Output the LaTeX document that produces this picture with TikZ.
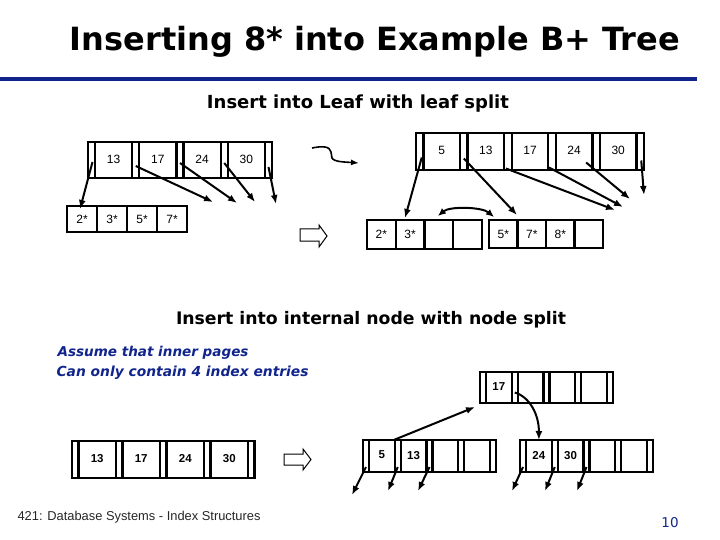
\documentclass[tikz,border=0pt]{standalone}
\usepackage{fontspec}
\setmainfont{Liberation Sans}
\newfontfamily\comicfont{DejaVu Sans}
\usetikzlibrary{arrows.meta,calc}
\definecolor{navy}{RGB}{16,36,140}
\tikzset{
  slotbase/.style={draw, line width=2.3pt, rectangle, inner sep=0pt, outer sep=0pt, anchor=north west},
  ptrslot/.style={slotbase},
  keyslot/.style={slotbase, font=\fontsize{12}{12}\selectfont},
  boldkey/.style={font=\fontsize{11.5}{12}\selectfont\bfseries},
  leafslot/.style={slotbase, font=\fontsize{12}{12}\selectfont},
  ptrarrow/.style={line width=2pt, -{Latex[length=9pt,width=7pt]}},
  dblarrow/.style={line width=2pt, {Latex[length=8pt,width=7pt]}-{Latex[length=8pt,width=7pt]}},
  blockarrow/.style={draw, line width=1pt, fill=white},
  comictext/.style={font=\comicfont\bfseries},
}
% #1 name, #2 x, #3 top y, #4 pointer width, #5 key width, #6 height, #7 keys, #8 number of keys, #9 extra key style
\newcommand{\innernode}[9]{%
  \foreach \kk [count=\ii from 0] in {#7} {%
    \pgfmathsetmacro{\xx}{#2+\ii*(#4+#5)}%
    \node[ptrslot, minimum width=#4 pt, minimum height=#6 pt] (#1-p\ii) at (\xx,#3) {};
    \node[keyslot, #9, minimum width=#5 pt, minimum height=#6 pt] (#1-k\ii) at (\xx+#4,#3) {\raisebox{2pt}{\kk}};
  }
  \pgfmathsetmacro{\xx}{#2+#8*(#4+#5)}%
  \node[ptrslot, minimum width=#4 pt, minimum height=#6 pt] (#1-p#8) at (\xx,#3) {};
}
% #1 name, #2 x, #3 top y, #4 slot width, #5 height, #6 keys
\newcommand{\leafnode}[6]{%
  \foreach \kk [count=\ii from 0] in {#6} {%
    \pgfmathsetmacro{\xx}{#2+\ii*#4}%
    \node[leafslot, minimum width=#4 pt, minimum height=#5 pt] (#1-k\ii) at (\xx,#3) {\kk};
  }
}
\begin{document}
\begin{tikzpicture}[x=1pt,y=-1pt]
\useasboundingbox (0,0) rectangle (720,540);

% title and rule
\node[comictext, anchor=base] (title) at (375,51) {\resizebox{610pt}{!}{Inserting 8* into Example B+ Tree}};
\draw[navy, line width=4pt] (0,79) -- (697,79);

\node[comictext, anchor=base] (sub1) at (358,109) {\resizebox{302pt}{!}{Insert into Leaf with leaf split}};

% ---- leaf split, left tree
\innernode{tl}{88}{142}{7}{37.25}{36}{13,17,24,30}{4}{}
\leafnode{ll}{67}{206}{30}{26}{2*,3*,5*,7*}
\coordinate (a1) at (80,209);
\coordinate (a2) at (213,202);
\coordinate (a3) at (237,203);
\coordinate (a4) at (255,202);
\coordinate (a5) at (276,204);
\draw[ptrarrow] ($(tl-p0.center)+(1,2)$) -- (a1);
\draw[ptrarrow] ($(tl-p1.center)+(0,6)$) -- (a2);
\draw[ptrarrow] ($(tl-p2.center)+(0,3)$) -- (a3);
\draw[ptrarrow] ($(tl-p3.center)+(0,3)$) -- (a4);
\draw[ptrarrow] ($(tl-p4.center)+(0,7)$) -- (a5);

% wavy arrow
\coordinate (w0) at (312,148);
\coordinate (w1) at (359,163);
\draw[line width=1.6pt, -{Latex[length=8pt,width=6pt]}] (w0) .. controls (322,146) and (330,146) .. (331,152) -- (332,158) .. controls (334,162) and (345,162) .. (w1);

% block arrow 1
\draw[blockarrow] (300,229) -- (319,229) -- (319,225) -- (327,236) -- (319,247) -- (319,241) -- (300,241) -- cycle;

% ---- leaf split, right tree
\innernode{tr}{416}{133}{7.5}{36.6}{37}{5,13,17,24,30}{5}{}
\leafnode{lra}{367}{220}{28.75}{29}{2*,3*,{},{}}
\leafnode{lrb}{489}{220}{28.5}{28}{5*,7*,8*,{}}
\coordinate (b0) at (405,218);
\coordinate (b1) at (517,215);
\coordinate (b2) at (615,210);
\coordinate (b3) at (623,207);
\coordinate (b4) at (630,199);
\coordinate (b5) at (644,195);
\draw[ptrarrow] ($(tr-p0.center)+(2,6)$) -- (b0);
\draw[ptrarrow] ($(tr-p1.center)+(0,7)$) -- (b1);
\draw[ptrarrow] ($(tr-p2.center)+(-2,17)$) -- (b2);
\draw[ptrarrow] ($(tr-p3.center)+(-3,16)$) -- (b3);
\draw[ptrarrow] ($(tr-p4.center)+(-10,11)$) -- (b4);
\draw[ptrarrow] ($(tr-p5.center)+(1,9)$) -- (b5);
\coordinate (s1) at ($(lra-k2.north)+(-1,-4)$);
\coordinate (s2) at ($(lrb-k0.north west)+(5,-3)$);
\draw[dblarrow] (s1) .. controls ($(s1)+(12,-10)$) and ($(s2)+(-12,-10)$) .. (s2);

% ---- internal node split
\node[comictext, anchor=base] (sub2) at (371,324) {\resizebox{390pt}{!}{Insert into internal node with node split}};
\node[comictext, anchor=base west, navy, font=\comicfont\bfseries\itshape] (note1) at (54,356) {\resizebox{191pt}{!}{Assume that inner pages}};
\node[comictext, anchor=base west, navy, font=\comicfont\bfseries\itshape] (note2) at (53,376) {\resizebox{252pt}{!}{Can only contain 4 index entries}};

\innernode{bl}{72}{441}{6.5}{37.5}{37}{13,17,24,30}{4}{boldkey}

% block arrow 2
\draw[blockarrow] (284,454) -- (303,454) -- (303,449) -- (311,459.5) -- (303,470) -- (303,465) -- (284,465) -- cycle;

\innernode{br}{480}{372}{6}{25.75}{31}{17,{},{},{}}{4}{boldkey}
\innernode{bm}{363}{440}{6}{25.75}{32}{5,13,{},{}}{4}{boldkey}
\innernode{bn}{520}{440}{6}{25.75}{32}{24,30,{},{}}{4}{boldkey}

\coordinate (c0) at (352,495);
\coordinate (c1) at (388,491);
\coordinate (c2) at (418,491);
\coordinate (c3) at (512,491);
\coordinate (c4) at (545,491);
\coordinate (c5) at (577,491);
\draw[ptrarrow] ($(bm-p0.center)+(0,11)$) -- (c0);
\draw[ptrarrow] ($(bm-p1.center)+(0,11)$) -- (c1);
\draw[ptrarrow] ($(bm-p2.center)+(0,11)$) -- (c2);
\draw[ptrarrow] ($(bn-p0.center)+(0,11)$) -- (c3);
\draw[ptrarrow] ($(bn-p1.center)+(0,11)$) -- (c4);
\draw[ptrarrow] ($(bn-p2.center)+(0,11)$) -- (c5);

\coordinate (u1) at (475,407);
\draw[ptrarrow] ($(bm-p1.north)+(-4,0)$) -- (u1);
\draw[ptrarrow] ($(br-p1.center)+(0,5)$) .. controls (530,397) and (539,415) .. (bn-k0.north);

% footer
\node[anchor=base west, text=black!85, font=\fontsize{10}{12}\selectfont] (foot) at (14,520) {\resizebox{243pt}{!}{421: Database Systems - Index Structures}};
\node[anchor=base, text=navy, font=\comicfont\fontsize{13.5}{14}\selectfont] (pagenum) at (670,527) {10};
\end{tikzpicture}
\end{document}
